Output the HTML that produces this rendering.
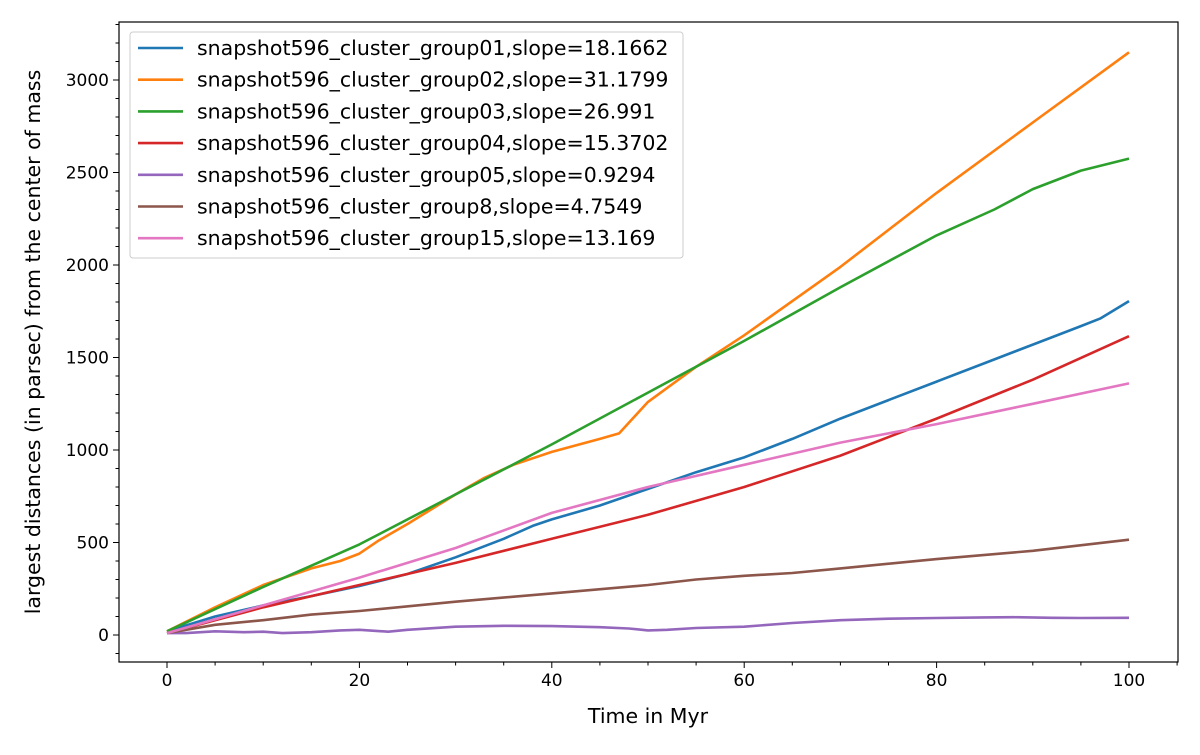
<!DOCTYPE html>
<html><head><meta charset="utf-8"><style>
body{margin:0;background:#fff;font-family:"Liberation Sans","DejaVu Sans",sans-serif}
</style></head><body>
<svg id="chart" width="1200" height="750" xmlns="http://www.w3.org/2000/svg" font-family="DejaVu Sans, Liberation Sans, sans-serif"></svg>
<script>
const xs=[0,5,10,15,20,25,30,35,40,45,50,55,60,65,70,75,80,85,90,95,100];
const names=["snapshot596_cluster_group01,slope=18.1662","snapshot596_cluster_group02,slope=31.1799","snapshot596_cluster_group03,slope=26.991","snapshot596_cluster_group04,slope=15.3702","snapshot596_cluster_group05,slope=0.9294","snapshot596_cluster_group8,slope=4.7549","snapshot596_cluster_group15,slope=13.169"];
const colors=["#1f77b4","#ff7f0e","#2ca02c","#d62728","#9467bd","#8c564b","#e377c2"];
const s1x=[0,5,10,15,20,25,30,35,38,40,45,50,55,60,65,70,75,80,85,90,95,97,100];
const s1y=[20,100,160,210,265,330,420,520,590,625,700,790,880,960,1060,1170,1270,1370,1470,1570,1670,1710,1805];
const s2x=[0,5,10,15,18,20,22,25,30,33,36,40,45,47,50,55,60,70,80,90,100];
const s2y=[20,150,270,360,400,440,510,600,760,850,920,990,1060,1090,1260,1450,1620,1990,2390,2770,3150];
const s3x=[0,10,20,30,40,50,60,70,80,86,90,95,100];
const s3y=[20,260,490,760,1030,1310,1590,1880,2160,2300,2410,2510,2575];
const s4x=[0,10,20,30,40,50,60,70,80,90,100];
const s4y=[10,150,270,390,520,650,800,970,1170,1380,1615];
const s5x=[0,2,5,8,10,12,15,18,20,23,25,30,35,40,45,48,50,52,55,60,65,70,75,80,85,88,92,95,100];
const s5y=[10,10,20,15,18,10,15,25,28,18,28,45,50,48,42,35,25,28,38,45,65,80,88,92,95,96,93,92,93];
const s6x=[0,5,10,15,20,30,40,50,55,60,65,70,80,90,100];
const s6y=[10,55,80,110,130,180,225,270,300,320,335,360,410,455,515];
const s7x=[0,10,20,30,40,50,60,70,80,90,100];
const s7y=[10,160,310,470,660,800,920,1040,1140,1250,1360];
const seriesX=[s1x,s2x,s3x,s4x,s5x,s6x,s7x];
const seriesY=[s1y,s2y,s3y,s4y,s5y,s6y,s7y];
const xTicks=[0,20,40,60,80,100];
const yTicks=[0,500,1000,1500,2000,2500,3000];
const X=v=>167+9.62*v, Y=v=>635-0.185*v;
const L=119,R=1178,T=22,B=662;
const svg=document.getElementById('chart');
const NS="http://www.w3.org/2000/svg";
function mk(t,a,p){const e=document.createElementNS(NS,t);for(const k in a)e.setAttribute(k,a[k]);(p||svg).appendChild(e);return e;}
seriesX.forEach((sx,i)=>{
 const pts=sx.map((x,j)=>X(x).toFixed(1)+","+Y(seriesY[i][j]).toFixed(1)).join(" ");
 const pl=mk('polyline',{points:pts,fill:'none',stroke:colors[i],'stroke-width':2.6,'stroke-linejoin':'round'});
 
 
});
const fr=mk('rect',{x:L,y:T,width:R-L,height:B-T,fill:'none',stroke:'#000','stroke-width':1.2});


for(let v=-5;v<=105;v+=5){if(X(v)<L||X(v)>R)continue;const maj=v%20===0;mk('line',{x1:X(v),x2:X(v),y1:B,y2:B+(maj?6:3.5),stroke:'#000','stroke-width':1});}
xTicks.forEach(v=>{const t=mk('text',{x:X(v),y:B+24,'text-anchor':'middle','font-size':17});t.textContent=v;
 
 });
for(let v=-100;v<=3300;v+=100){const maj=v%500===0;mk('line',{x1:L,x2:L-(maj?6:3.5),y1:Y(v),y2:Y(v),stroke:'#000','stroke-width':1});}
yTicks.forEach(v=>{const t=mk('text',{x:L-10,y:Y(v)+6,'text-anchor':'end','font-size':17});t.textContent=v;
 
 });
const xt=mk('text',{x:648,y:723,'text-anchor':'middle','font-size':20.5});xt.textContent="Time in Myr";


const yt=mk('text',{x:0,y:0,'text-anchor':'middle','font-size':20.5,transform:'translate(40,342) rotate(-90)'});yt.textContent="largest distances (in parsec) from the center of mass";


const lg=mk('g',{});


mk('rect',{x:130,y:32,width:553,height:226,rx:3,fill:'#fff','fill-opacity':0.85,stroke:'#ccc','stroke-width':1},lg);
names.forEach((n,i)=>{const y=48+31.7*i;
 const g=mk('g',{},lg);
 
 
 mk('line',{x1:138,x2:183,y1:y,y2:y,stroke:colors[i],'stroke-width':2.6},g);
 const t=mk('text',{x:197,y:y+7,'font-size':20.5},g);t.textContent=n;});
</script>
</body></html>
